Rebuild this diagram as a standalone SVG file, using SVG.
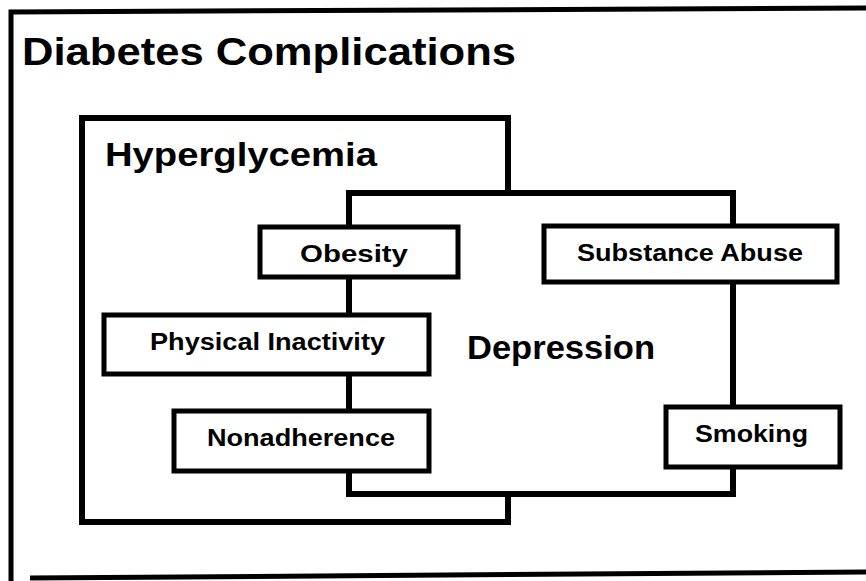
<svg xmlns="http://www.w3.org/2000/svg" width="866" height="581" viewBox="0 0 866 581">
<style>
.frame{fill:none;stroke:#000;stroke-width:5}
.group{fill:#fff;stroke:#000;stroke-width:6}
.box{fill:#fff;stroke:#000;stroke-width:5}
text{font-family:"Liberation Sans",Arial,Helvetica,sans-serif;font-weight:bold;fill:#000}
.big{font-size:34px}
.title{font-size:39px}
.lbl{font-size:23px}
</style>
<rect width="866" height="581" fill="#fff"/>
<g id="frame">
<path class="frame" d="M11,581 V12 L866,8"/>
<path class="frame" d="M30,578 L866,572" stroke-width="4"/>
<text class="title" x="22" y="65" textLength="494" lengthAdjust="spacingAndGlyphs">Diabetes Complications</text>
</g>
<g id="hyperglycemia">
<rect class="group" x="82" y="118" width="426" height="404"/>
<text class="big" x="105" y="166" textLength="272" lengthAdjust="spacingAndGlyphs">Hyperglycemia</text>
</g>
<g id="depression">
<rect class="group" x="349" y="193" width="384" height="301"/>
<text class="big" x="467" y="359" textLength="188" lengthAdjust="spacingAndGlyphs">Depression</text>
</g>
<g id="obesity">
<rect class="box" x="260" y="227" width="198" height="50"/>
<text class="lbl" x="300" y="262" textLength="108" lengthAdjust="spacingAndGlyphs">Obesity</text>
</g>
<g id="substance-abuse">
<rect class="box" x="544" y="226" width="293" height="56"/>
<text class="lbl" x="577" y="261" textLength="226" lengthAdjust="spacingAndGlyphs">Substance Abuse</text>
</g>
<g id="physical-inactivity">
<rect class="box" x="104" y="315" width="325" height="59"/>
<text class="lbl" x="150" y="350" textLength="235" lengthAdjust="spacingAndGlyphs">Physical Inactivity</text>
</g>
<g id="nonadherence">
<rect class="box" x="174" y="411" width="255" height="60"/>
<text class="lbl" x="207" y="446" textLength="188" lengthAdjust="spacingAndGlyphs">Nonadherence</text>
</g>
<g id="smoking">
<rect class="box" x="666" y="407" width="174" height="60"/>
<text class="lbl" x="695" y="442" textLength="113" lengthAdjust="spacingAndGlyphs">Smoking</text>
</g>
</svg>
